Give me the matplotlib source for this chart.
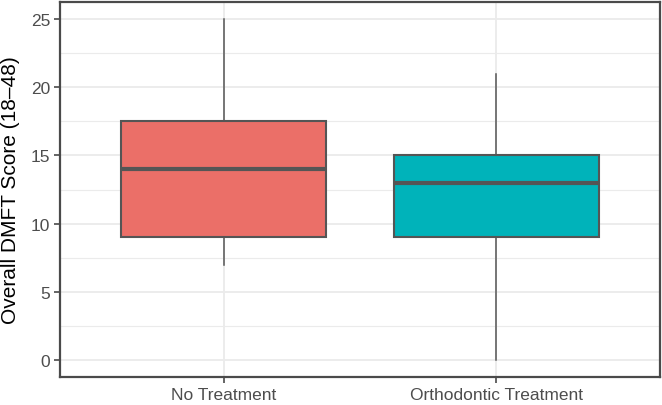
import numpy as np
import matplotlib
matplotlib.use("Agg")
import matplotlib.pyplot as plt
from matplotlib.ticker import MultipleLocator

plt.rcParams['font.family'] = ['Liberation Sans', 'DejaVu Sans']

# Box statistics
groups = ['No Treatment', 'Orthodontic Treatment']
whislo = [7, 0]
q1 = [9, 9]
med = [14, 13]
q3 = [17.5, 15]
whishi = [25, 21]
fills = ['#EB6F68', '#00B3BA']

stats = []
for i, g in enumerate(groups):
    stats.append(dict(label=g, whislo=whislo[i], q1=q1[i], med=med[i],
                      q3=q3[i], whishi=whishi[i], fliers=[]))

fig = plt.figure(figsize=(6.62, 4.06), dpi=100)
ax = fig.add_axes([60 / 662, 28 / 406, 600 / 662, 375 / 406])

edge = '#555555'
bp = ax.bxp(stats, positions=[1, 2], widths=0.75, patch_artist=True,
            showcaps=False, showfliers=False,
            boxprops=dict(edgecolor=edge, linewidth=1.5),
            whiskerprops=dict(color=edge, linewidth=1.1),
            medianprops=dict(color=edge, linewidth=3.0),
            zorder=3)
for patch, c in zip(bp['boxes'], fills):
    patch.set_facecolor(c)

ax.set_xlim(0.4, 2.6)
ax.set_ylim(-1.25, 26.25)
ax.set_xticks([1, 2])
ax.set_xticklabels(groups)
ax.yaxis.set_major_locator(MultipleLocator(5))
ax.yaxis.set_minor_locator(MultipleLocator(2.5))
ax.tick_params(axis='y', which='minor', length=0)

ax.grid(True, which='major', color='#EBEBEB', linewidth=1.3, zorder=0)
ax.grid(True, which='minor', axis='y', color='#EBEBEB', linewidth=0.8, zorder=0)
ax.set_axisbelow(True)

for s in ax.spines.values():
    s.set_color('#4A4A4A')
    s.set_linewidth(1.6)

ax.tick_params(axis='both', which='major', length=4, width=1.2, color='#4A4A4A',
               labelsize=12.5, labelcolor='#4D4D4D', pad=3)
ax.set_ylabel('Overall DMFT Score (18\u201348)', fontsize=15, color='black', labelpad=8)

fig.savefig('out.png', dpi=100)
